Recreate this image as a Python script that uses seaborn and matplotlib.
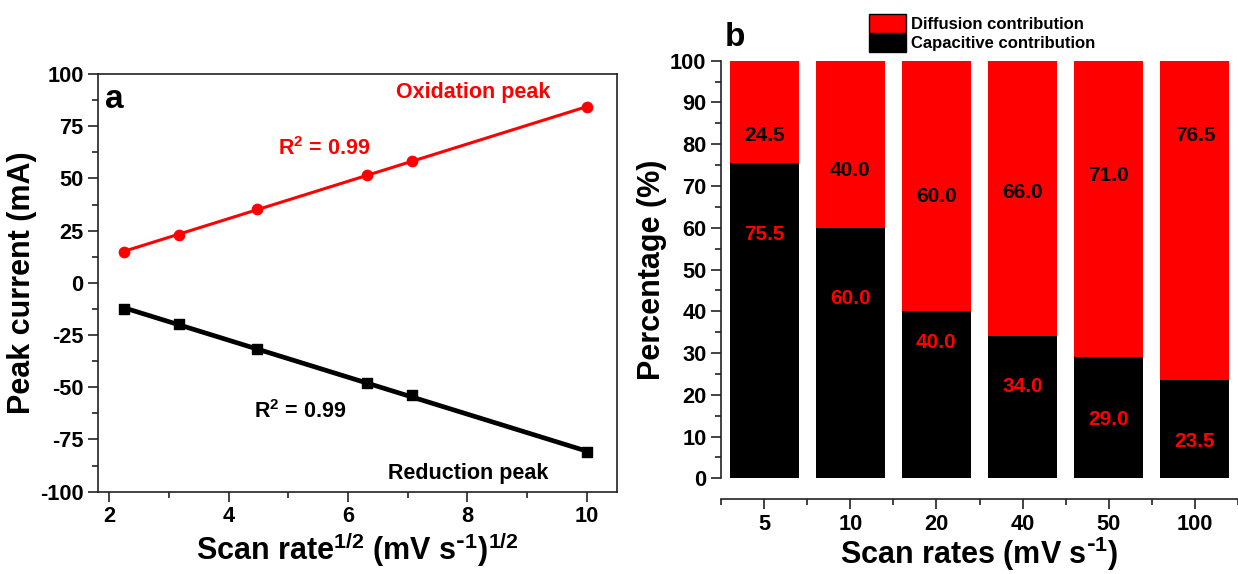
import numpy as np
import pandas as pd
import seaborn as sns
from matplotlib import pyplot as plt
from matplotlib.patches import Patch
from matplotlib.ticker import MultipleLocator

# panel a: peak current vs square root of scan rate
sqrt_rate = [2.24, 3.16, 4.47, 6.32, 7.07, 10.0]
oxidation = [14.7, 23.0, 35.5, 51.6, 58.5, 84.0]
reduction = [-12.6, -19.5, -31.8, -47.9, -53.8, -81.2]

# panel b: capacitive / diffusion split
scan_rates = ["5", "10", "20", "40", "50", "100"]
capacitive = [75.5, 60.0, 40.0, 34.0, 29.0, 23.5]
diffusion = [24.5, 40.0, 60.0, 66.0, 71.0, 76.5]
# where the percentage numbers sit inside each bar
diff_label_y = [82.0, 73.7, 67.5, 68.4, 72.5, 82.2]
cap_label_y = [58.5, 43.0, 32.5, 21.9, 14.0, 8.9]

sns.set_style("ticks")
plt.rcParams["font.family"] = ["Liberation Sans", "DejaVu Sans"]
plt.rcParams["font.weight"] = "bold"
plt.rcParams["axes.labelweight"] = "bold"
plt.rcParams["mathtext.default"] = "regular"
plt.rcParams["axes.unicode_minus"] = False
for key in ["text.color", "axes.labelcolor", "xtick.labelcolor", "ytick.labelcolor"]:
    plt.rcParams[key] = "black"

RED = "#ff0000"
FRAME = "#222222"
LABEL_FS = 22
NOTE_FS = 15.5

fig = plt.figure(figsize=(12.38, 5.74), dpi=100)
ax1 = fig.add_axes([0.0794, 0.1434, 0.4192, 0.7277])
ax2 = fig.add_axes([0.5824, 0.1667, 0.4176, 0.7275])

# ---- panel a ----
sns.regplot(x=sqrt_rate, y=oxidation, ax=ax1, ci=None, color=RED, marker="o",
            scatter_kws={"s": 55, "zorder": 3, "alpha": 1}, line_kws={"lw": 2.2})
sns.regplot(x=sqrt_rate, y=reduction, ax=ax1, ci=None, color="black", marker="s",
            scatter_kws={"s": 50, "zorder": 3, "alpha": 1}, line_kws={"lw": 3.4})
ax1.set_xlim(1.816, 10.51)
ax1.set_ylim(-100, 100)
ax1.xaxis.set_major_locator(MultipleLocator(2))
ax1.xaxis.set_minor_locator(MultipleLocator(1))
ax1.yaxis.set_major_locator(MultipleLocator(25))
ax1.yaxis.set_minor_locator(MultipleLocator(12.5))
ax1.set_xlabel(r"Scan rate$^{1/2}$ (mV s$^{\text{-}1}$)$^{1/2}$", fontsize=LABEL_FS, labelpad=2)
ax1.set_ylabel("Peak current (mA)", fontsize=LABEL_FS, labelpad=2)

ax1.text(2.08, 87.6, "a", fontsize=24, fontweight="bold", ha="center", va="center")
ax1.text(8.09, 91.3, "Oxidation peak", color=RED, fontsize=NOTE_FS, ha="center", va="center")
ax1.text(5.6, 64.4, r"R$^{2}$ = 0.99", color=RED, fontsize=NOTE_FS, ha="center", va="center")
ax1.text(5.2, -61.5, r"R$^{2}$ = 0.99", color="black", fontsize=NOTE_FS, ha="center", va="center")
ax1.text(8.02, -91.2, "Reduction peak", color="black", fontsize=NOTE_FS, ha="center", va="center")

# ---- panel b ----
df = pd.DataFrame({"rate": scan_rates, "cap": capacitive, "diff": diffusion})
df["total"] = df["cap"] + df["diff"]
sns.barplot(data=df, x="rate", y="total", color=RED, saturation=1, width=0.8,
            linewidth=0, ax=ax2)
sns.barplot(data=df, x="rate", y="cap", color="black", saturation=1, width=0.8,
            linewidth=0, ax=ax2)

for i in range(len(scan_rates)):
    ax2.text(i, diff_label_y[i], f"{diffusion[i]:.1f}", color="black", fontsize=15,
             ha="center", va="center")
    ax2.text(i, cap_label_y[i], f"{capacitive[i]:.1f}", color=RED, fontsize=15,
             ha="center", va="center")

ax2.set_xlim(-0.5, 5.465)
ax2.set_ylim(0, 100)
ax2.yaxis.set_major_locator(MultipleLocator(10))
ax2.yaxis.set_minor_locator(MultipleLocator(5))
ax2.set_xticks(np.arange(-0.5, 6, 1), minor=True)
ax2.spines["top"].set_visible(False)
ax2.spines["right"].set_visible(False)
ax2.spines["bottom"].set_position(("outward", 15))
ax2.set_xlabel(r"Scan rates (mV s$^{\text{-}1}$)", fontsize=LABEL_FS, labelpad=0)
ax2.set_ylabel("Percentage (%)", fontsize=LABEL_FS, labelpad=2)
fig.text(735 / 1238, 1 - 37 / 574, "b", fontsize=24, fontweight="bold", ha="center", va="center")

for ax in (ax1, ax2):
    ax.tick_params(which="major", length=7, width=1.2, labelsize=15.7, color=FRAME,
                   labelcolor="black")
    ax.tick_params(which="minor", length=4, width=1.2, color=FRAME)
    for s in ax.spines.values():
        s.set_linewidth(1.2)
        s.set_color(FRAME)

handles = [Patch(facecolor=RED, edgecolor="black", label="Diffusion contribution"),
           Patch(facecolor="black", edgecolor="black", label="Capacitive contribution")]
fig.legend(handles=handles, loc="upper left", bbox_to_anchor=(869 / 1238, 1 - 14 / 574),
           frameon=False, fontsize=12, borderpad=0, borderaxespad=0, handlelength=2.2,
           handleheight=1.35, handletextpad=0.3, labelspacing=0.05)

# make sure tick labels come out bold after the ticks are built
fig.canvas.draw()
for ax in (ax1, ax2):
    for lab in ax.get_xticklabels() + ax.get_yticklabels():
        lab.set_fontweight("bold")

fig.savefig("out.png", dpi=100)
